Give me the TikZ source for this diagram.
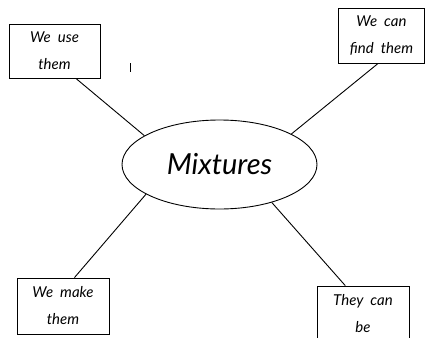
\documentclass[tikz,border=0pt]{standalone}
\usepackage{fontspec}
\setmainfont{Lato}
\usepackage{tikz}
\usepackage{xcolor}
\usetikzlibrary{shapes.geometric}

\begin{document}
\begin{tikzpicture}[x=1pt, y=-1pt, line width=0.9pt, font=\itshape]
	\tikzstyle{box}=[draw, rectangle, inner sep=0pt, align=center, font=\fontsize{15}{27}\selectfont\itshape]
	\tikzstyle{link}=[draw, line width=0.9pt]

	\useasboundingbox (0,0) rectangle (425,337);
	\clip (0,0) rectangle (425,337);

	\node[draw, ellipse, minimum width=195pt, minimum height=89pt, inner sep=0pt, font=\fontsize{29}{32}\selectfont\itshape] (mix) at (219.5,164.5) {Mixtures};

	\node[box, minimum width=91pt, minimum height=54pt] (use) at (54.5,51) {We~~use\\them};
	\node[box, minimum width=86pt, minimum height=55pt] (find) at (381.5,35.5) {We~~can\\find~~them};
	\node[box, minimum width=92pt, minimum height=56pt] (make) at (63,306) {We~~make\\them};
	\node[box, minimum width=92pt, minimum height=56pt] (be) at (363,314) {They~~can\\be};

	\draw[link] (use.-52) -- (mix.159);
	\draw[link] (find.-97) -- (mix.23.5);
	\draw[link] (make.68.5) -- (mix.202);
	\draw[link] (be.122.7) -- (mix.-36);

	\draw[line width=0.8pt] (130,63) -- (130,72);
\end{tikzpicture}
\end{document}
